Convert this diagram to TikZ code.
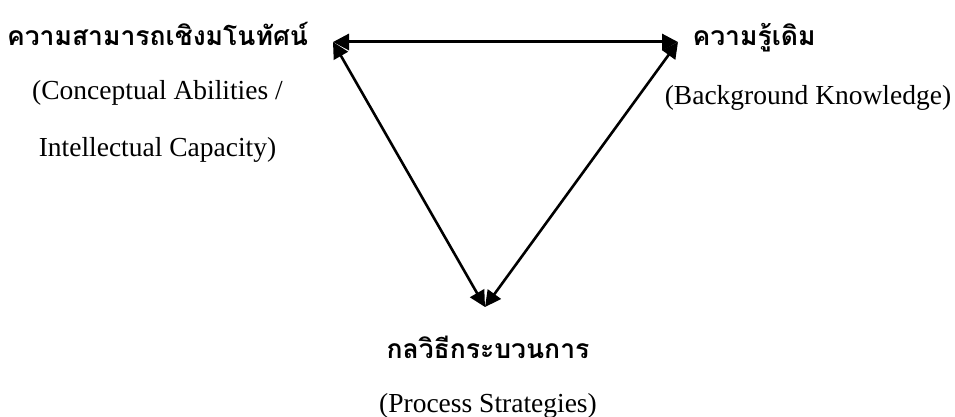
\documentclass[tikz,border=0pt]{standalone}
\usepackage{fontspec}
\setmainfont{Liberation Serif}
\newfontfamily\thaifont[Script=Thai]{Loma}
\usetikzlibrary{arrows.meta}
\begin{document}
\begin{tikzpicture}[x=1pt,y=-1pt,
  thai/.style={font=\thaifont\bfseries\fontsize{26.5}{30}\selectfont, anchor=base, inner sep=0pt},
  eng/.style={font=\fontsize{27.5}{32}\selectfont, anchor=base, inner sep=0pt},
  link/.style={line width=2.6pt, {Triangle[length=16pt,width=16pt]}-{Triangle[length=16pt,width=16pt]}}]
\useasboundingbox (0,0) rectangle (955,417);
\node[thai] (lt) at (157.5,46) {ความสามารถเชิงมโนทัศน์};
\node[eng] (le1) at (157.5,100) {(Conceptual Abilities /};
\node[eng] (le2) at (157.5,156) {Intellectual Capacity)};
\node[thai] (rt) at (754,46) {ความรู้เดิม};
\node[eng] (re) at (808,105) {(Background Knowledge)};
\node[thai] (bt) at (488,358) {กลวิธีกระบวนการ};
\node[eng] (be) at (488,412) {(Process Strategies)};
\coordinate (A) at (333,42);
\coordinate (B) at (678,42);
\coordinate (C) at (485,307);
\draw[link, line width=3pt] (A) -- (B);
\draw[link] (A) -- (C);
\draw[link] (B) -- (C);
\end{tikzpicture}
\end{document}
